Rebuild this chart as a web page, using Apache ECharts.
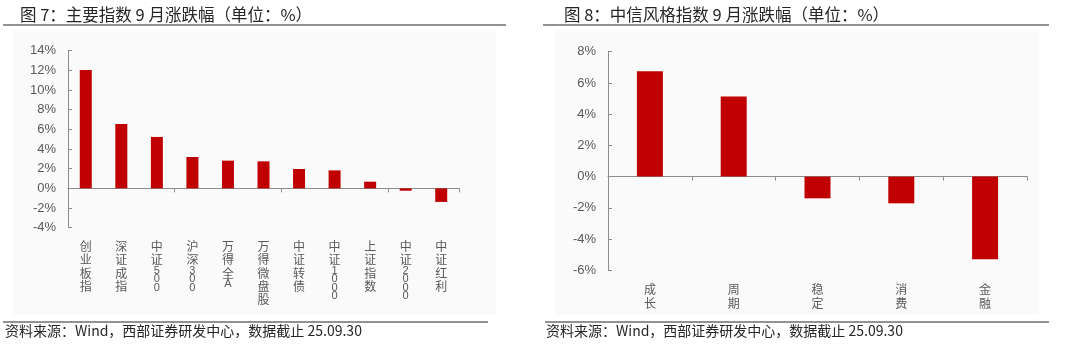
<!DOCTYPE html>
<html>
<head>
<meta charset="utf-8">
<script src="https://cdn.jsdelivr.net/npm/echarts@6/dist/echarts.min.js"></script>
<style>
  html, body { margin: 0; padding: 0; background: #fff; }
  #chart { width: 1080px; height: 351px; }
</style>
</head>
<body>
<div id="chart"></div>
<script>
// 图7：主要指数 9 月涨跌幅
const indexNames = ['创业板指', '深证成指', '中证500', '沪深300', '万得全A', '万得微盘股', '中证转债', '中证1000', '上证指数', '中证2000', '中证红利']
const indexChange = [12.05, 6.55, 5.23, 3.19, 2.82, 2.75, 1.97, 1.83, 0.68, -0.24, -1.38]
const leftTicks = { min: -4, max: 14, interval: 2 }

// 图8：中信风格指数 9 月涨跌幅
const styleNames = ['成长', '周期', '稳定', '消费', '金融']
const styleChange = [6.75, 5.13, -1.39, -1.71, -5.30]
const rightTicks = { min: -6, max: 8, interval: 2 }

const titles = ['图 7：主要指数 9 月涨跌幅（单位：%）', '图 8：中信风格指数 9 月涨跌幅（单位：%）']
const sourceText = '资料来源：Wind，西部证券研发中心，数据截止 25.09.30'

const RED = '#c00000'
const AXIS = '#8c8c8c'
const LABEL = '#595959'
const CJK = '"Noto Sans CJK SC", sans-serif'
const LATIN = '"Liberation Sans", Arial, sans-serif'

// stack label characters vertically; digits / latin get a tighter line (they are rotated in the original)
const verticalLabel = (name) =>
  name.split('').map(ch => /[0-9A-Za-z]/.test(ch) ? `{d|${ch}}` : `{c|${ch}}`).join('\n')

const valueAxis = (gridIndex, ticks) => ({
  type: 'value',
  gridIndex,
  min: ticks.min,
  max: ticks.max,
  interval: ticks.interval,
  axisLine: { show: true, lineStyle: { color: AXIS } },
  axisTick: { show: true, inside: true, length: 4, lineStyle: { color: AXIS } },
  splitLine: { show: false },
  axisLabel: {
    formatter: '{value}%',
    color: LABEL,
    fontFamily: LATIN,
    fontSize: 13,
    margin: 12
  }
})

// axis line + ticks sitting on zero
const zeroAxis = (gridIndex, names) => ({
  type: 'category',
  gridIndex,
  data: names,
  axisLine: { onZero: true, lineStyle: { color: AXIS } },
  axisTick: { show: true, length: 4, lineStyle: { color: AXIS } },
  axisLabel: { show: false }
})

// label-only axis at the bottom of the grid
const labelAxis = (gridIndex, names, margin, lineHeight) => ({
  type: 'category',
  gridIndex,
  data: names,
  position: 'bottom',
  axisLine: { show: false, onZero: false },
  axisTick: { show: false },
  axisLabel: {
    interval: 0,
    margin,
    formatter: verticalLabel,
    rich: {
      c: { fontFamily: CJK, fontSize: 12, lineHeight, color: LABEL },
      d: { fontFamily: LATIN, fontSize: 11, lineHeight: 8.5, color: LABEL }
    }
  }
})

const chart = echarts.init(document.getElementById('chart'), null, { renderer: 'canvas' })

const options = {
  backgroundColor: '#ffffff',
  animation: false,
  title: [
    { text: titles[0], left: 15, top: 1, textStyle: { fontFamily: CJK, fontSize: 16.5, fontWeight: 'normal', color: '#262626' } },
    { text: titles[1], left: 559, top: 1, textStyle: { fontFamily: CJK, fontSize: 16.5, fontWeight: 'normal', color: '#262626' } }
  ],
  graphic: [
    // panel backgrounds
    { type: 'rect', z: -10, shape: { x: 13, y: 30, width: 483, height: 285 }, style: { fill: '#fafafa' } },
    { type: 'rect', z: -10, shape: { x: 555, y: 30, width: 484, height: 285 }, style: { fill: '#fafafa' } },
    // rules under titles and above sources
    { type: 'line', shape: { x1: 3, y1: 25, x2: 506, y2: 25 }, style: { stroke: '#6e6e6e', lineWidth: 1.5 } },
    { type: 'line', shape: { x1: 543, y1: 25, x2: 1049, y2: 25 }, style: { stroke: '#6e6e6e', lineWidth: 1.5 } },
    { type: 'line', shape: { x1: 3, y1: 322, x2: 488, y2: 322 }, style: { stroke: '#6e6e6e', lineWidth: 1.5 } },
    { type: 'line', shape: { x1: 545, y1: 322, x2: 1049, y2: 322 }, style: { stroke: '#6e6e6e', lineWidth: 1.5 } },
    // sources
    { type: 'text', left: 5, top: 324, style: { text: sourceText, font: `14px ${CJK}`, fill: '#262626' } },
    { type: 'text', left: 546, top: 324, style: { text: sourceText, font: `14px ${CJK}`, fill: '#262626' } }
  ],
  grid: [
    { left: 68, top: 50.7, width: 391, height: 177, outerBoundsMode: 'none' },
    { left: 608, top: 51.7, width: 419, height: 218.6, outerBoundsMode: 'none' }
  ],
  xAxis: [
    zeroAxis(0, indexNames),
    labelAxis(0, indexNames, 12, 13.3),
    zeroAxis(1, styleNames),
    labelAxis(1, styleNames, 12, 14.4)
  ],
  yAxis: [
    valueAxis(0, leftTicks),
    valueAxis(1, rightTicks)
  ],
  series: [
    {
      name: '主要指数',
      type: 'bar',
      xAxisIndex: 0,
      yAxisIndex: 0,
      data: indexChange,
      barWidth: 12,
      itemStyle: { color: RED }
    },
    {
      name: '中信风格指数',
      type: 'bar',
      xAxisIndex: 2,
      yAxisIndex: 1,
      data: styleChange,
      barWidth: 26,
      itemStyle: { color: RED }
    }
  ]
}

chart.setOption(options)
</script>
</body>
</html>
